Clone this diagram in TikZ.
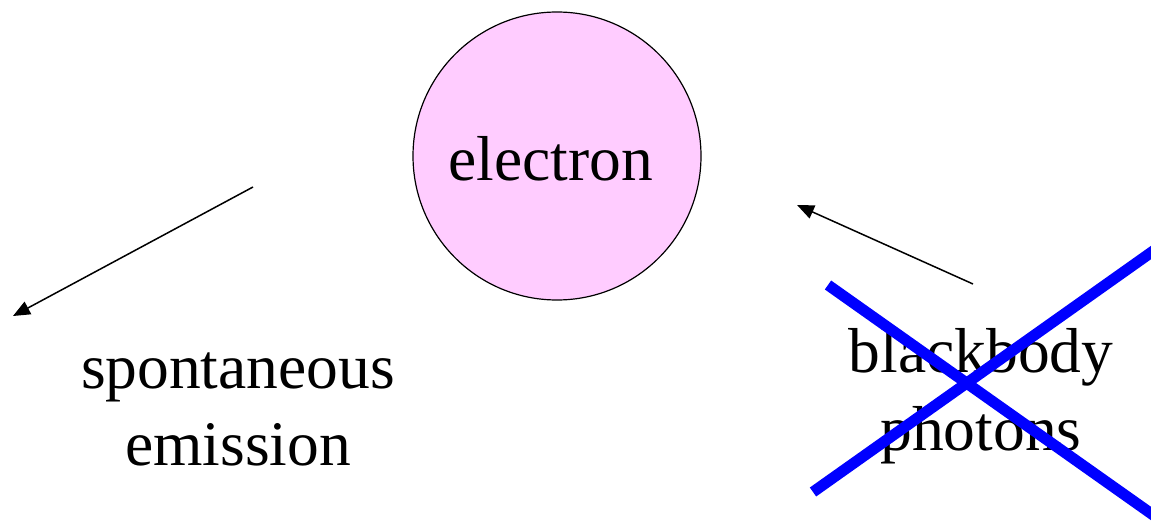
\documentclass[tikz,border=0pt]{standalone}
\usepackage{fontspec}
\setmainfont{Liberation Serif}
\usetikzlibrary{arrows.meta}
\definecolor{elecpink}{HTML}{FFCCFF}
\definecolor{crossblue}{HTML}{0000FF}
\begin{document}
\begin{tikzpicture}[x=1pt,y=-1pt,
  lbl/.style={inner sep=0pt,anchor=base,font=\fontsize{63.5}{75}\selectfont},
  arr/.style={line width=1.5pt,-{Triangle[length=17pt,width=14pt]}},
  crossline/.style={crossblue,line width=11pt}]
\useasboundingbox (0,0) rectangle (1151,524);
\begin{scope}
\clip (0,0) rectangle (1151,524);
\node[circle,draw=black,line width=1.2pt,fill=elecpink,minimum size=288pt,inner sep=0pt] (electron) at (557,156) {};
\node[lbl] (electxt) at (551,180) {electron};
\node[lbl] (spont) at (238,388) {spontaneous};
\node[lbl] (emis) at (238,465) {emission};
\node[lbl] (black) at (981,372) {blackbody};
\node[lbl] (phot) at (981,450) {photons};
\coordinate (a1s) at (253,187);
\coordinate (a1e) at (13,316);
\coordinate (a2s) at (973,284);
\coordinate (a2e) at (797,205);
\draw[arr] (a1s) -- (a1e);
\draw[arr] (a2s) -- (a2e);
\coordinate (x1s) at (828,285);
\coordinate (x1e) at (1180,534);
\coordinate (x2s) at (813,492);
\coordinate (x2e) at (1180,232);
\draw[crossline] (x1s) -- (x1e);
\draw[crossline] (x2s) -- (x2e);
\end{scope}
\end{tikzpicture}
\end{document}
